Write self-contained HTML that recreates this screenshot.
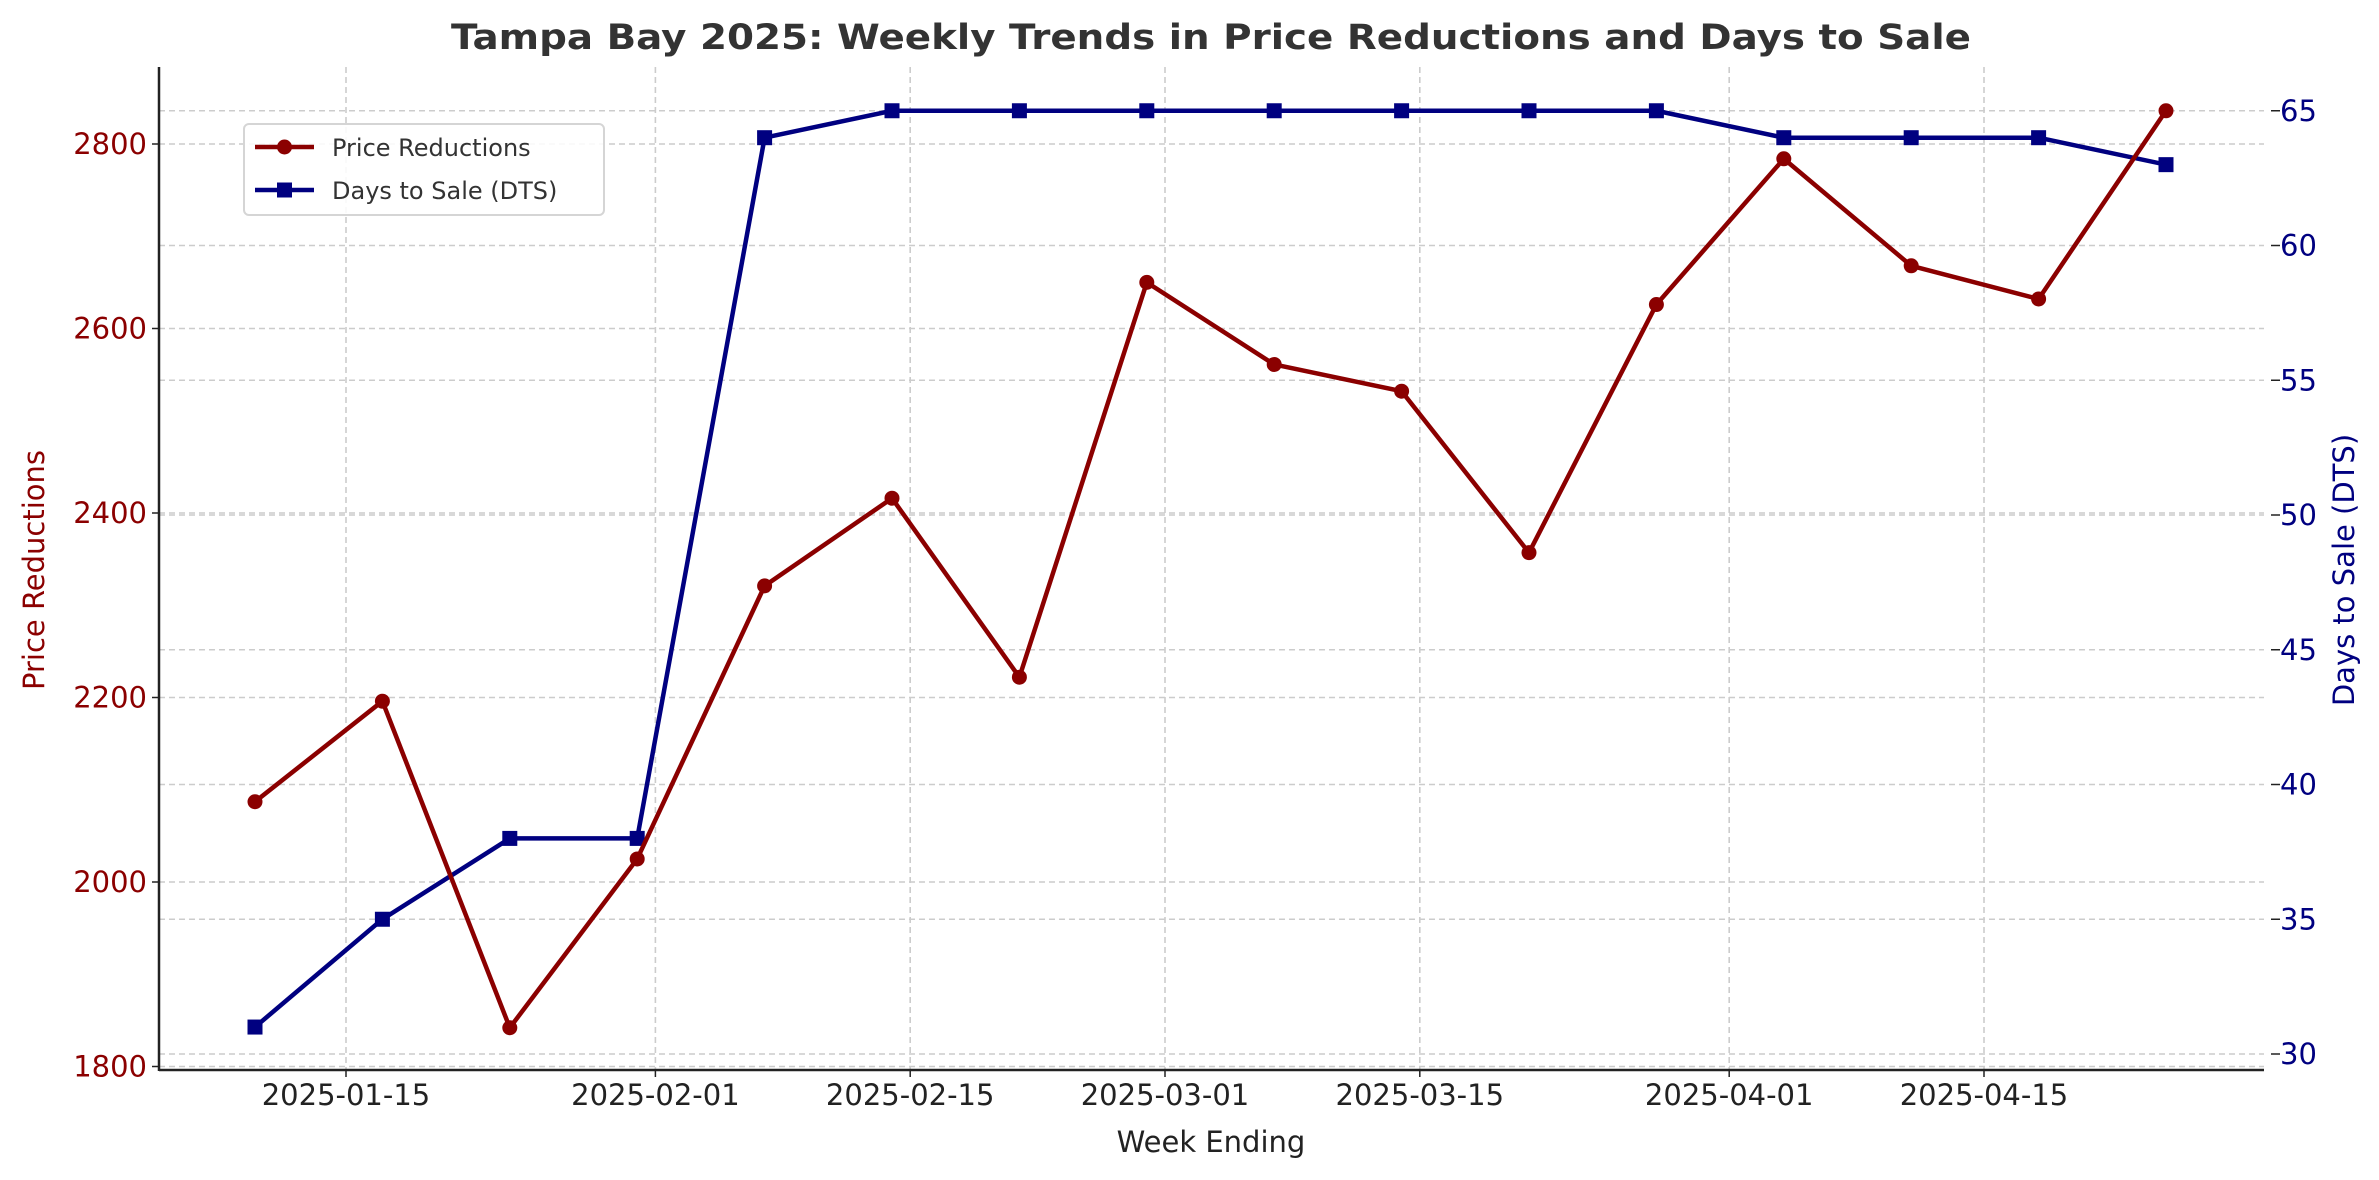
<!DOCTYPE html>
<html><head><meta charset="utf-8"><style>
html,body{margin:0;padding:0;background:#fff;}
svg{display:block;font-family:"DejaVu Sans","Liberation Sans",sans-serif;}
</style></head><body>
<svg id="chart" width="2379" height="1180" viewBox="0 0 2379 1180" xmlns="http://www.w3.org/2000/svg">
<rect width="2379" height="1180" fill="#fff"/>
<text x="1211" y="49" text-anchor="middle" font-size="35" font-weight="bold" fill="#333" textLength="1520" lengthAdjust="spacingAndGlyphs">Tampa Bay 2025: Weekly Trends in Price Reductions and Days to Sale</text>
<g id="grid"></g>
<g id="axes"></g>
<g id="series"></g>
<g>
<rect x="244" y="124" width="360" height="91" rx="5" fill="#fff" fill-opacity="0.85" stroke="#d5d5d5" stroke-width="2"/>
<line x1="255" y1="147" x2="314" y2="147" stroke="#8b0000" stroke-width="4.5"/>
<circle cx="284.5" cy="147" r="7.5" fill="#8b0000"/>
<text x="332" y="156" font-size="24" fill="#333">Price Reductions</text>
<line x1="255" y1="190" x2="314" y2="190" stroke="#000080" stroke-width="4.5"/>
<rect x="277" y="182.5" width="15" height="15" fill="#000080"/>
<text x="332" y="199" font-size="24" fill="#333">Days to Sale (DTS)</text>
</g>
</svg>
<script>
const weeks = ["2025-01-10","2025-01-17","2025-01-24","2025-01-31","2025-02-07","2025-02-14","2025-02-21","2025-02-28","2025-03-07","2025-03-14","2025-03-21","2025-03-28","2025-04-04","2025-04-11","2025-04-18","2025-04-25"];
const priceReductions = [2087,2196,1842,2025,2321,2416,2222,2650,2561,2532,2357,2626,2784,2668,2632,2836];
const daysToSale = [31,35,38,38,64,65,65,65,65,65,65,65,64,64,64,63];
const xTicks = ["2025-01-15","2025-02-01","2025-02-15","2025-03-01","2025-03-15","2025-04-01","2025-04-15"];
const leftTicks = [1800,2000,2200,2400,2600,2800];
const rightTicks = [30,35,40,45,50,55,60,65];

const NS="http://www.w3.org/2000/svg";
const L=159,R=2264,T=67,B=1070;
const day0=Date.parse("2025-01-10"), x0=255, pxPerDay=18.2;
function xs(d){return x0+(Date.parse(d)-day0)/86400000*pxPerDay;}
function yl(v){return 1066.5-(v-1800)*0.9225;}
function yr(v){return 1054-(v-30)*26.95;}
function mk(tag,attrs,parent){const e=document.createElementNS(NS,tag);for(const k in attrs)e.setAttribute(k,attrs[k]);parent.appendChild(e);return e;}
const grid=document.getElementById('grid'),axes=document.getElementById('axes'),ser=document.getElementById('series');
const gs={stroke:"#cccccc","stroke-width":1.6,"stroke-dasharray":"6,4"};
xTicks.forEach(t=>{const x=xs(t);
 const g=mk('line',Object.assign({x1:x,x2:x,y1:T,y2:B},gs),grid);
 
 
 mk('line',{x1:x,x2:x,y1:B,y2:B+7,stroke:"#222","stroke-width":1.5},axes);
 const tx=mk('text',{x:x,y:1105,"text-anchor":"middle","font-size":"29",fill:"#222"},axes);tx.textContent=t;
 
 });
leftTicks.forEach(v=>{const y=yl(v);
 const g=mk('line',Object.assign({x1:L,x2:R,y1:y,y2:y},gs),grid);
 
 
 mk('line',{x1:L-7,x2:L,y1:y,y2:y,stroke:"#222","stroke-width":1.5},axes);
 const tx=mk('text',{x:147,y:y+10,"text-anchor":"end","font-size":"29",fill:"#8b0000"},axes);tx.textContent=v;
 
 });
rightTicks.forEach(v=>{const y=yr(v);
 const g=mk('line',Object.assign({x1:L,x2:R,y1:y,y2:y},gs),grid);
 
 
 mk('line',{x1:R+7,x2:R+16,y1:y,y2:y,stroke:"#222","stroke-width":1.5},axes);
 const tx=mk('text',{x:2280,y:y+10,"text-anchor":"start","font-size":"29",fill:"#000080"},axes);tx.textContent=v;
 
 });
mk('line',{x1:L,x2:L,y1:T,y2:B+1,stroke:"#222","stroke-width":2.5},axes);
mk('line',{x1:L,x2:R,y1:B,y2:B,stroke:"#222","stroke-width":2.5},axes);
let t=mk('text',{x:1211,y:1152,"text-anchor":"middle","font-size":"29",fill:"#222"},axes);t.textContent="Week Ending";


t=mk('text',{x:44,y:570,"text-anchor":"middle","font-size":"29",fill:"#8b0000",transform:"rotate(-90 44 570)"},axes);t.textContent="Price Reductions";


t=mk('text',{x:2354,y:570,"text-anchor":"middle","font-size":"29",fill:"#000080",transform:"rotate(-90 2354 570)"},axes);t.textContent="Days to Sale (DTS)";


let p=mk('polyline',{points:daysToSale.map((v,i)=>xs(weeks[i])+","+yr(v)).join(" "),fill:"none",stroke:"#000080","stroke-width":4.5,"stroke-linejoin":"round"},ser);


daysToSale.forEach((v,i)=>{const m=mk('rect',{x:xs(weeks[i])-7.5,y:yr(v)-7.5,width:15,height:15,fill:"#000080"},ser);
 
 });
p=mk('polyline',{points:priceReductions.map((v,i)=>xs(weeks[i])+","+yl(v)).join(" "),fill:"none",stroke:"#8b0000","stroke-width":4.5,"stroke-linejoin":"round"},ser);


priceReductions.forEach((v,i)=>{const m=mk('circle',{cx:xs(weeks[i]),cy:yl(v),r:7.5,fill:"#8b0000"},ser);
 
 });
</script>
</body></html>
